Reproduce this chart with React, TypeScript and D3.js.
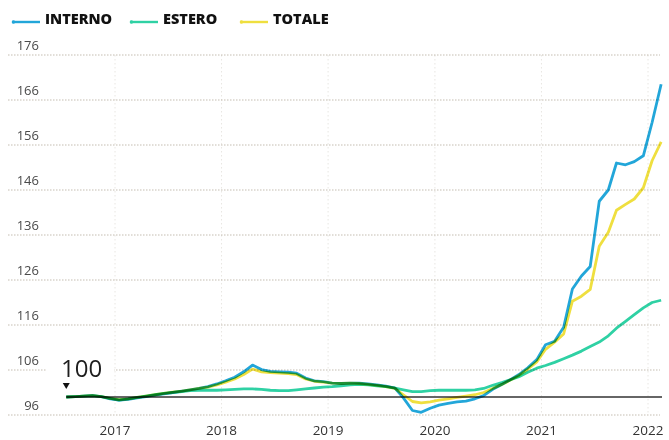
import React from 'react';
import { select, scaleLinear, scaleTime, line } from 'd3';

// monthly index values, Jan 2017 = 100
const startYear = 2017;
const interno = [
  100.0, 100.1, 100.2, 100.3, 100.1, 99.6, 99.3, 99.5, 99.8, 100.1,
  100.4, 100.7, 101.0, 101.3, 101.6, 101.9, 102.3, 102.9, 103.6, 104.4,
  105.6, 107.1, 106.1, 105.7, 105.6, 105.5, 105.3, 104.2, 103.6, 103.4,
  103.1, 103.0, 103.1, 103.1, 102.9, 102.7, 102.4, 102.0, 99.8, 97.0,
  96.6, 97.5, 98.2, 98.6, 98.9, 99.1, 99.6, 100.3, 101.7, 102.8,
  103.8, 105.0, 106.5, 108.3, 111.6, 112.4, 115.5, 124.0, 126.9, 129.0,
  143.5, 146.0, 152.0, 151.6, 152.3, 153.6, 161.0, 169.5,
];
const estero = [
  100.0, 100.1, 100.2, 100.3, 100.1, 99.7, 99.3, 99.6, 99.9, 100.2,
  100.5, 100.8, 101.0, 101.2, 101.4, 101.5, 101.5, 101.5, 101.6, 101.7,
  101.8, 101.8, 101.7, 101.5, 101.4, 101.4, 101.6, 101.8, 102.0, 102.2,
  102.3, 102.5, 102.7, 102.8, 102.7, 102.5, 102.3, 102.0, 101.6, 101.2,
  101.2, 101.4, 101.5, 101.5, 101.5, 101.5, 101.6, 101.9, 102.6, 103.2,
  103.8, 104.5, 105.5, 106.4, 107.0, 107.7, 108.5, 109.3, 110.2, 111.2,
  112.2, 113.6, 115.3, 116.8, 118.3, 119.8, 121.0, 121.5,
];
const totale = [
  100.0, 100.1, 100.2, 100.3, 100.1, 99.7, 99.4, 99.6, 99.9, 100.2,
  100.5, 100.8, 101.1, 101.3, 101.6, 101.9, 102.2, 102.7, 103.3, 104.0,
  105.0, 106.2, 105.6, 105.4, 105.3, 105.2, 105.0, 104.0, 103.5, 103.3,
  103.1, 103.0, 103.1, 103.0, 102.8, 102.6, 102.3, 101.9, 100.5, 99.0,
  98.7, 98.9, 99.3, 99.6, 99.9, 100.2, 100.5, 101.0, 101.9, 102.8,
  103.7, 104.8, 106.2, 107.8, 110.6, 112.2, 114.0, 121.3, 122.4, 123.9,
  133.5, 136.6, 141.5, 142.8, 144.0, 146.5, 152.5, 156.7,
];
const yTicks = [96, 106, 116, 126, 136, 146, 156, 166, 176];
const years = [2017, 2018, 2019, 2020, 2021, 2022];
const seriesNames = ['INTERNO', 'ESTERO', 'TOTALE'];
const seriesColors = ['#22a6d9', '#2fd1a4', '#efdf3f'];

const W = 669;
const H = 440;
const font = '"Open Sans", "DejaVu Sans", sans-serif';

const App: React.FC = () => {
  const ref = React.useRef<SVGSVGElement>(null);

  React.useEffect(() => {
    const svg = select(ref.current);
    svg.selectAll('*').remove();

    const months = interno.map((_, i) => new Date(startYear, i, 15));
    const x = scaleTime()
      .domain([new Date(2017, 6, 1), new Date(2022, 6, 1)])
      .range([115, 648]);
    const y = scaleLinear().domain([96, 176]).range([415, 55]);

    svg.append('rect').attr('width', W).attr('height', H).attr('fill', '#fff');

    // vertical year guides
    svg.append('g').selectAll('line').data(years).enter().append('line')
      .attr('x1', d => x(new Date(d, 6, 1)))
      .attr('x2', d => x(new Date(d, 6, 1)))
      .attr('y1', y(176))
      .attr('y2', y(96))
      .attr('stroke', '#e2dfda')
      .attr('stroke-width', 0.8)
      .attr('stroke-dasharray', '1.5,2.5');

    // horizontal grid + labels
    const grid = svg.append('g');
    grid.selectAll('line').data(yTicks).enter().append('line')
      .attr('x1', 8)
      .attr('x2', 660)
      .attr('y1', d => y(d))
      .attr('y2', d => y(d))
      .attr('stroke', '#bdb5a8')
      .attr('stroke-width', 0.9)
      .attr('stroke-dasharray', '1.5,1.5');
    grid.selectAll('text').data(yTicks).enter().append('text')
      .attr('x', 39)
      .attr('y', d => y(d) - 5)
      .attr('text-anchor', 'end')
      .attr('font-family', font)
      .attr('font-size', 13)
      .attr('fill', '#4a4a4a')
      .text(d => d);

    // year labels
    svg.append('g').selectAll('text').data(years).enter().append('text')
      .attr('x', d => x(new Date(d, 6, 1)))
      .attr('y', 435)
      .attr('text-anchor', 'middle')
      .attr('font-family', font)
      .attr('font-size', 13.5)
      .attr('fill', '#333')
      .text(d => d);

    // base 100 line
    svg.append('line')
      .attr('x1', x(months[0]))
      .attr('x2', 662)
      .attr('y1', y(100))
      .attr('y2', y(100))
      .attr('stroke', '#333')
      .attr('stroke-width', 1.3);

    // "100" marker
    svg.append('rect')
      .attr('x', 46).attr('y', 358).attr('width', 68).attr('height', 20)
      .attr('fill', '#fff');
    svg.append('text')
      .attr('x', 61)
      .attr('y', 377)
      .attr('font-family', font)
      .attr('font-size', 24)
      .attr('fill', '#1e1e1e')
      .text('100');
    const tx = x(months[0]);
    svg.append('path')
      .attr('d', `M${tx - 3.5},383 L${tx + 3.5},383 L${tx},389 Z`)
      .attr('fill', '#111');

    // series
    const series = [interno, estero, totale];
    const lineGen = line<number>()
      .x((_, i) => x(months[i]))
      .y(d => y(d));
    svg.append('g').selectAll('path').data(series).enter().append('path')
      .attr('d', d => lineGen(d))
      .attr('fill', 'none')
      .attr('stroke', (_, i) => seriesColors[i])
      .attr('stroke-width', 2.8)
      .attr('stroke-linejoin', 'round')
      .style('mix-blend-mode', 'multiply');

    // legend
    const legendX = [12, 130, 240];
    const lg = svg.append('g').selectAll('g').data(seriesNames).enter().append('g')
      .attr('transform', (_, i) => `translate(${legendX[i]}, 0)`);
    lg.append('line')
      .attr('x1', 0).attr('x2', 28).attr('y1', 22).attr('y2', 22)
      .attr('stroke', (_, i) => seriesColors[i])
      .attr('stroke-width', 2.4);
    lg.append('circle')
      .attr('cx', 1.5).attr('cy', 22).attr('r', 1.8)
      .attr('fill', (_, i) => seriesColors[i]);
    lg.append('text')
      .attr('x', 33)
      .attr('y', 23.5)
      .attr('font-family', font)
      .attr('font-size', 14.5)
      .attr('font-weight', 800)
      .attr('fill', '#111')
      .text(d => d);
  }, []);

  return (
    <div style={{ position: 'absolute', left: 0, top: 0 }}>
      <svg ref={ref} width={W} height={H} />
    </div>
  );
};

export default App;
